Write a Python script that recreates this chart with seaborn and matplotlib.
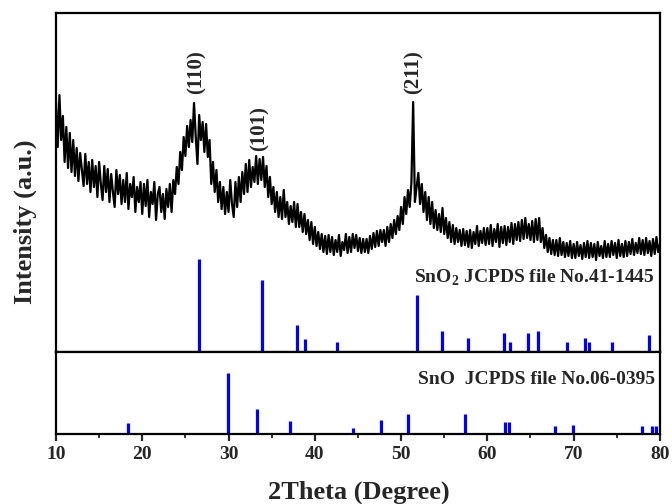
import numpy as np
import pandas as pd
import matplotlib
matplotlib.use("Agg")
import matplotlib.pyplot as plt
import seaborn as sns

# measured XRD pattern, 10-80 deg in 0.2 deg steps (a.u.)
intensity = [
    250, 205, 257, 212, 236, 190, 225, 184, 219, 180,
    212, 176, 204, 171, 199, 183, 166, 198, 168, 190,
    160, 192, 165, 186, 155, 190, 168, 152, 186, 160,
    183, 150, 178, 160, 145, 182, 158, 177, 148, 172,
    150, 179, 143, 168, 155, 175, 140, 165, 150, 170,
    138, 168, 146, 172, 135, 160, 148, 170, 132, 158,
    165, 140, 158, 133, 163, 145, 168, 140, 172, 158,
    185, 168, 200, 182, 215, 196, 226, 205, 232, 210,
    249, 215, 188, 237, 212, 230, 200, 228, 195, 212,
    168, 190, 160, 182, 150, 170, 143, 165, 138, 160,
    140, 172, 148, 135, 170, 145, 175, 150, 180, 158,
    188, 160, 192, 165, 185, 170, 196, 168, 193, 172,
    195, 165, 186, 155, 175, 148, 165, 140, 160, 135,
    155, 133, 162, 135, 150, 128, 146, 130, 150, 125,
    148, 125, 140, 120, 138, 118, 132, 112, 130, 108,
    125, 106, 120, 103, 118, 100, 116, 98, 117, 100,
    115, 97, 112, 100, 117, 96, 110, 102, 118, 99,
    115, 100, 118, 104, 117, 101, 114, 99, 113, 100,
    113, 99, 116, 103, 119, 105, 121, 106, 122, 110,
    122, 106, 125, 110, 128, 114, 132, 118, 136, 122,
    145, 128, 155, 138, 162, 145, 170, 250, 150, 165,
    179, 148, 168, 140, 160, 132, 155, 128, 150, 124,
    142, 122, 138, 120, 144, 118, 134, 114, 130, 110,
    127, 108, 124, 110, 122, 106, 123, 107, 121, 105,
    122, 104, 120, 108, 126, 106, 121, 109, 124, 107,
    124, 108, 127, 106, 123, 110, 128, 105, 125, 109,
    126, 107, 125, 110, 129, 108, 128, 112, 130, 111,
    132, 113, 134, 114, 128, 112, 131, 110, 133, 112,
    134, 110, 124, 104, 117, 100, 114, 98, 112, 97,
    112, 96, 114, 97, 110, 95, 109, 96, 111, 94,
    108, 94, 110, 96, 107, 93, 109, 95, 111, 94,
    109, 95, 108, 92, 110, 96, 106, 94, 111, 95,
    108, 95, 111, 97, 109, 94, 112, 96, 108, 95,
    111, 96, 110, 98, 113, 97, 109, 99, 114, 98,
    112, 97, 114, 99, 111, 96, 113, 98, 115, 100,
    108,
]
two_theta = np.linspace(10, 80, len(intensity))

# reference sticks
sno2_pos = [26.6, 33.9, 37.9, 38.9, 42.6, 51.8, 54.8, 57.8, 61.9, 62.6,
            64.7, 65.9, 69.2, 71.3, 71.8, 74.5, 78.7]
sno2_int = [93, 72, 27, 13, 10, 57, 21, 14, 19, 10, 19, 21, 10, 14, 10, 10, 17]
sno_pos = [18.3, 29.9, 33.3, 37.1, 44.4, 47.7, 50.8, 57.4, 62.0, 62.5,
           67.8, 69.9, 77.9, 79.1, 79.6]
sno_int = [11, 61, 25, 13, 6, 14, 20, 20, 12, 12, 8, 9, 8, 8, 8]

peak_labels = ["(110)", "(101)", "(211)"]
peak_x = [26.3, 33.6, 51.5]
peak_y = [280, 223, 280]

sns.set_style("ticks")
plt.rcParams['font.family'] = ['Liberation Serif', 'DejaVu Serif']
plt.rcParams['font.weight'] = 'bold'
plt.rcParams['mathtext.fontset'] = 'custom'
plt.rcParams['mathtext.rm'] = 'Liberation Serif:bold'
plt.rcParams['mathtext.bf'] = 'Liberation Serif:bold'

fig = plt.figure(figsize=(6.72, 5.04), dpi=100)
ax1 = fig.add_axes([0.0833, 0.3016, 0.8987, 0.6726])
ax2 = fig.add_axes([0.0833, 0.1389, 0.8987, 0.1627], sharex=ax1)

df = pd.DataFrame({"2theta": two_theta, "I": intensity})
sns.lineplot(data=df, x="2theta", y="I", ax=ax1, color="black", linewidth=1.6)
ax1.vlines(sno2_pos, 0, sno2_int, color="#0000ff", linewidth=2.3)
ax2.vlines(sno_pos, 0, sno_int, color="#0000ff", linewidth=2.3)

for lab, x, y in zip(peak_labels, peak_x, peak_y):
    ax1.text(x, y, lab, rotation=90, ha="center", va="center",
             fontsize=15, fontweight="bold")

ax1.text(79.4, 74, "SnO$_\\mathbf{2}$ JCPDS file No.41-1445", ha="right", va="center",
         fontsize=14, fontweight="bold")
ax2.text(79.4, 54, "SnO  JCPDS file No.06-0395", ha="right", va="center",
         fontsize=14, fontweight="bold")

ax1.set_xlim(10, 80)
ax1.set_ylim(0, 339)
ax2.set_ylim(0, 82)

for ax in (ax1, ax2):
    ax.set_xlabel("")
    ax.set_ylabel("")
    ax.set_yticks([])
    for s in ax.spines.values():
        s.set_visible(True)
        s.set_linewidth(1.6)
        s.set_color("black")

ax1.tick_params(axis="x", which="both", bottom=False, labelbottom=False)
ax2.set_xticks([10, 20, 30, 40, 50, 60, 70, 80])
ax2.set_xticks([15, 25, 35, 45, 55, 65, 75], minor=True)
ax2.tick_params(axis="x", which="major", direction="out", length=5, width=1.6,
                labelsize=14, pad=4)
ax2.tick_params(axis="x", which="minor", direction="out", length=3, width=1.3)
for t in ax2.get_xticklabels():
    t.set_fontweight("bold")

fig.text(0.534, 0.024, "2Theta (Degree)", ha="center", va="center",
         fontsize=19, fontweight="bold")
fig.text(0.037, 0.56, "Intensity (a.u.)", ha="center", va="center",
         rotation=90, fontsize=19, fontweight="bold")

fig.savefig("out.png", dpi=100)
